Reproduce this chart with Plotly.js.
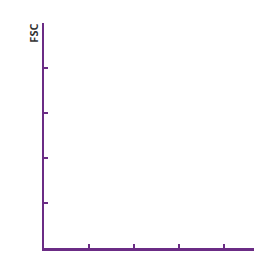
<!DOCTYPE html>
<html><head><meta charset="utf-8">
<script src="https://cdn.plot.ly/plotly-3.0.1.min.js"></script>
<style>html,body{margin:0;padding:0;background:#fff;}#chart{width:254px;height:253px;}</style>
</head><body><div id="chart"></div>
<script>
const yLabel = "FSC";
const xTickVals = [1, 2, 3, 4];
const yTickVals = [1, 2, 3, 4, 5];
const xValues = [];
const yValues = [];

const purple = "#6b2c85";
Plotly.newPlot("chart", [{
  x: xValues, y: yValues, type: "scatter", mode: "markers",
  marker: {color: purple}, showlegend: false, hoverinfo: "skip"
}], {
  width: 254, height: 253,
  margin: {l: 44, r: 0, t: 23, b: 5, pad: 0},
  paper_bgcolor: "#fff", plot_bgcolor: "#fff",
  xaxis: {
    range: [0, 4.667], showgrid: false, zeroline: false,
    showline: true, linecolor: purple, linewidth: 2.5,
    ticks: "inside", tickvals: xTickVals, ticklen: 4, tickwidth: 2, tickcolor: purple,
    showticklabels: false, fixedrange: true
  },
  yaxis: {
    range: [0, 5], showgrid: false, zeroline: false,
    showline: true, linecolor: purple, linewidth: 2.5,
    ticks: "inside", tickvals: yTickVals, ticklen: 4, tickwidth: 2, tickcolor: purple,
    showticklabels: false, fixedrange: true, automargin: false
  },
  annotations: [{
    text: "<b>" + yLabel + "</b>", xref: "paper", yref: "paper",
    x: -0.05, y: 0.955, showarrow: false, textangle: -90,
    xanchor: "center", yanchor: "middle",
    font: {family: "Open Sans", size: 11, color: "#333"}
  }]
}, {displayModeBar: false, staticPlot: true});
</script></body></html>
